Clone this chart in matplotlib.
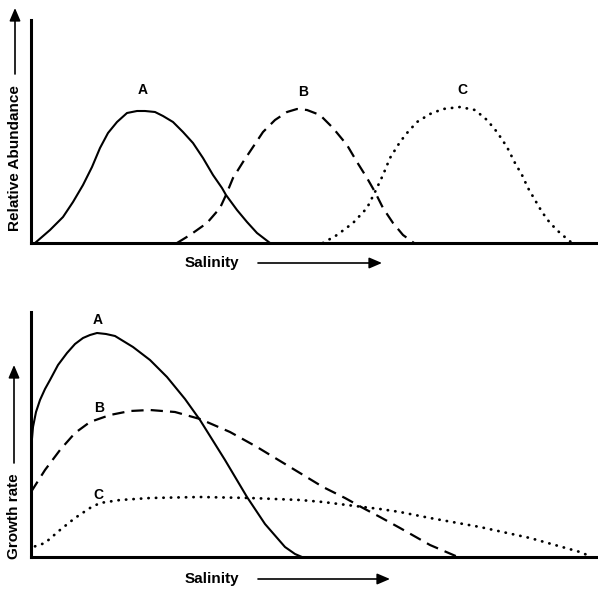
import matplotlib.pyplot as plt
from matplotlib.patches import FancyArrowPatch

# values: salinity (px from axis) vs height (px above axis)
top_a_x = [4, 19, 32, 42, 52, 61, 69, 77, 86, 96, 106, 114, 124, 132, 142, 152, 162, 172,
           182, 191, 195, 206, 216, 226, 239]
top_a_y = [0, 13, 26, 41, 58, 76, 95, 110, 121, 130, 132, 132, 131, 127, 121, 111, 100, 85,
           68, 55, 48, 33, 21, 10, 0]
top_b_x = [146, 159, 176, 189, 195, 202, 212, 222, 232, 244, 256, 266, 276, 289, 302, 316,
           326, 336, 344, 352, 362, 372, 383]
top_b_y = [0, 8, 20, 35, 48, 65, 81, 96, 111, 123, 131, 134, 133, 128, 115, 98,
           81, 65, 51, 35, 20, 8, 0]
top_c_x = [292, 306, 322, 336, 344, 352, 359, 369, 376, 386, 399, 412, 429, 444, 456, 466,
           476, 484, 491, 497, 504, 511, 519, 529, 541]
top_c_y = [0, 8, 20, 35, 51, 68, 85, 101, 110, 121, 129, 134, 136, 133, 123, 111,
           96, 80, 68, 55, 43, 31, 20, 10, 0]

bot_a_x = [0, 2, 5, 9, 14, 19, 27, 36, 44, 52, 59, 66, 75, 84, 102, 119, 136, 154, 169,
           194, 216, 234, 254, 264, 271]
bot_a_y = [107, 130, 145, 157, 168, 177, 192, 204, 213, 219, 222, 224, 223, 221, 210, 197,
           180, 158, 137, 97, 60, 33, 10, 3, 0]
bot_b_x = [0, 14, 29, 44, 59, 79, 99, 119, 144, 169, 199, 226, 259, 292, 314, 332, 349,
           369, 399, 427]
bot_b_y = [65, 87, 107, 124, 135, 142, 146, 147, 145, 138, 125, 110, 90, 70, 59, 49, 40,
           29, 12, 0]
bot_c_x = [0, 2, 14, 29, 44, 59, 69, 89, 119, 169, 219, 269, 292, 332, 349, 369, 399, 449,
           499, 549, 561]
bot_c_y = [5, 10, 14, 27, 39, 49, 54, 57, 59, 60, 59, 57, 55, 50, 48, 45, 39, 30, 19, 5, 0]

top_labels = {'A': (112, 153), 'B': (272, 151), 'C': (431, 153)}
bot_labels = {'A': (67, 237), 'B': (68, 149), 'C': (67, 62)}

plt.rcParams['font.family'] = ['Liberation Sans', 'DejaVu Sans']

fig = plt.figure(figsize=(5.98, 5.90), dpi=100)
W, H = 598, 590
ax1 = fig.add_axes([31 / W, 1 - 243 / H, 567 / W, 223 / H])
ax2 = fig.add_axes([31 / W, 1 - 557 / H, 567 / W, 245 / H])

solid = dict(color='black', lw=1.5, solid_joinstyle='round')
dashed = dict(color='black', lw=1.6, linestyle=(0, (5.5, 3.2)))
dotted = dict(color='black', lw=2.0, linestyle=(0, (0.1, 2.6)), dash_capstyle='round')

ax1.plot(top_a_x, top_a_y, **solid)
ax1.plot(top_b_x, top_b_y, **dashed)
ax1.plot(top_c_x, top_c_y, **dotted)
ax1.set_ylim(0, 223)
for k, (x, y) in top_labels.items():
    ax1.text(x, y, k, ha='center', va='center', fontsize=10, fontweight='bold')

ax2.plot(bot_a_x, bot_a_y, **solid)
ax2.plot(bot_b_x, bot_b_y, **dashed)
ax2.plot(bot_c_x, bot_c_y, **dotted)
ax2.set_ylim(0, 245)
for k, (x, y) in bot_labels.items():
    ax2.text(x, y, k, ha='center', va='center', fontsize=10, fontweight='bold')

for ax in (ax1, ax2):
    ax.set_xlim(0, 567)
    ax.set_xticks([])
    ax.set_yticks([])
    for s in ('top', 'right'):
        ax.spines[s].set_visible(False)
    for s in ('left', 'bottom'):
        ax.spines[s].set_linewidth(2.2)
    ax.patch.set_alpha(0)


def fx(px):
    return px / W


def fy(py):
    return 1 - py / H


def arrow(p0, p1):
    fig.add_artist(FancyArrowPatch((fx(p0[0]), fy(p0[1])), (fx(p1[0]), fy(p1[1])),
                                   transform=fig.transFigure,
                                   arrowstyle='-|>,head_length=0.7,head_width=0.3',
                                   mutation_scale=11, shrinkA=0, shrinkB=0,
                                   color='black', lw=1.2))


# x labels with arrows
for yy, x_end in ((263, 382), (579, 390)):
    fig.text(fx(212), fy(yy), 'Salinity', ha='center', va='center', fontsize=11, fontweight='bold')
    arrow((258, yy), (x_end, yy))

# y labels with arrows
fig.text(fx(15), fy(158), 'Relative Abundance', rotation=90, ha='center', va='center',
         fontsize=11, fontweight='bold')
arrow((15, 74), (15, 8))
fig.text(fx(14), fy(516), 'Growth rate', rotation=90, ha='center', va='center',
         fontsize=11, fontweight='bold')
arrow((14, 463), (14, 365))

fig.savefig('out.png', dpi=100)
